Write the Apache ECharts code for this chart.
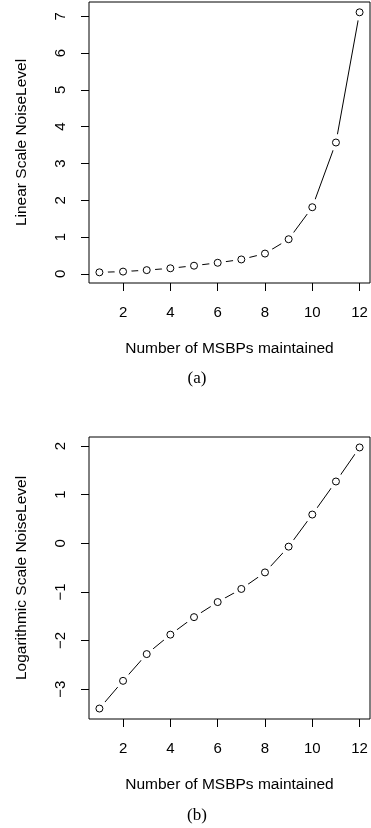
<!DOCTYPE html>
<html>
<head>
<meta charset="utf-8">
<script src="https://cdn.jsdelivr.net/npm/echarts@6/dist/echarts.min.js"></script>
<style>
  html, body { margin: 0; padding: 0; background: #fff; }
  #chart { width: 371px; height: 828px; }
</style>
</head>
<body>
<div id="chart"></div>
<script>
const msbps = [1, 2, 3, 4, 5, 6, 7, 8, 9, 10, 11, 12];
const linearNoise = [0.04, 0.06, 0.10, 0.15, 0.22, 0.30, 0.39, 0.55, 0.94, 1.81, 3.57, 7.11];
const logNoise = [-3.40, -2.83, -2.28, -1.88, -1.52, -1.21, -0.94, -0.60, -0.07, 0.59, 1.27, 1.97];
const xTicks = [2, 4, 6, 8, 10, 12];
const linearTicks = [0, 1, 2, 3, 4, 5, 6, 7];
const logTicks = [-3, -2, -1, 0, 1, 2];

const sans = 'Liberation Sans, Arial, sans-serif';
const serif = 'Liberation Serif, Times New Roman, serif';

const pairs = ys => msbps.map((x, i) => [x, ys[i]]);

const xAxisFor = gridIndex => ({
  gridIndex,
  type: 'value',
  min: 0.56,
  max: 12.44,
  name: 'Number of MSBPs maintained',
  nameLocation: 'middle',
  nameGap: 58,
  nameTextStyle: { fontFamily: sans, fontSize: 15.5, color: '#000' },
  splitLine: { show: false },
  axisLine: { show: false, onZero: false },
  axisTick: { show: true, length: 8, customValues: xTicks, lineStyle: { color: '#000' } },
  axisLabel: { customValues: xTicks, margin: 22, fontFamily: sans, fontSize: 15, color: '#000' }
});

const yAxisFor = (gridIndex, name, min, max, ticks) => ({
  gridIndex,
  type: 'value',
  min,
  max,
  name,
  nameLocation: 'middle',
  nameRotate: 90,
  nameGap: 59,
  nameTextStyle: { fontFamily: sans, fontSize: 15.5, color: '#000' },
  splitLine: { show: false },
  axisLine: { show: false, onZero: false },
  axisTick: { show: true, length: 8, customValues: ticks, lineStyle: { color: '#000' } },
  axisLabel: {
    customValues: ticks,
    rotate: 90,
    margin: 21,
    fontFamily: sans,
    fontSize: 15,
    color: '#000',
    formatter: v => String(v).replace('-', '\u2212')
  }
});

const seriesFor = (idx, ys) => [
  {
    type: 'line',
    xAxisIndex: idx,
    yAxisIndex: idx,
    data: pairs(ys),
    showSymbol: false,
    silent: true,
    lineStyle: { color: '#000', width: 1 },
    z: 2
  },
  {
    // white disc under each point leaves the gap of R's type = "b"
    type: 'scatter',
    xAxisIndex: idx,
    yAxisIndex: idx,
    data: pairs(ys),
    symbol: 'circle',
    symbolSize: 17,
    silent: true,
    itemStyle: { color: '#fff', opacity: 1 },
    z: 3
  },
  {
    type: 'scatter',
    xAxisIndex: idx,
    yAxisIndex: idx,
    data: pairs(ys),
    symbol: 'circle',
    symbolSize: 7,
    silent: true,
    itemStyle: { color: '#fff', borderColor: '#000', borderWidth: 1, opacity: 1 },
    z: 4
  }
];

const chart = echarts.init(document.getElementById('chart'));
chart.setOption({
  animation: false,
  backgroundColor: '#fff',
  graphic: [
    { type: 'text', x: 197, y: 379, silent: true,
      style: { text: '(a)', textAlign: 'center', textVerticalAlign: 'middle', fill: '#000', font: '17px ' + serif } },
    { type: 'text', x: 197, y: 816, silent: true,
      style: { text: '(b)', textAlign: 'center', textVerticalAlign: 'middle', fill: '#000', font: '17px ' + serif } }
  ],
  grid: [
    { left: 89, top: 2, width: 281, height: 281, show: true, borderColor: '#000', borderWidth: 1, backgroundColor: 'transparent' },
    { left: 89, top: 437, width: 281, height: 282, show: true, borderColor: '#000', borderWidth: 1, backgroundColor: 'transparent' }
  ],
  xAxis: [xAxisFor(0), xAxisFor(1)],
  yAxis: [
    yAxisFor(0, 'Linear Scale NoiseLevel', -0.25, 7.39, linearTicks),
    yAxisFor(1, 'Logarithmic Scale NoiseLevel', -3.615, 2.185, logTicks)
  ],
  series: [...seriesFor(0, linearNoise), ...seriesFor(1, logNoise)]
});
</script>
</body>
</html>
